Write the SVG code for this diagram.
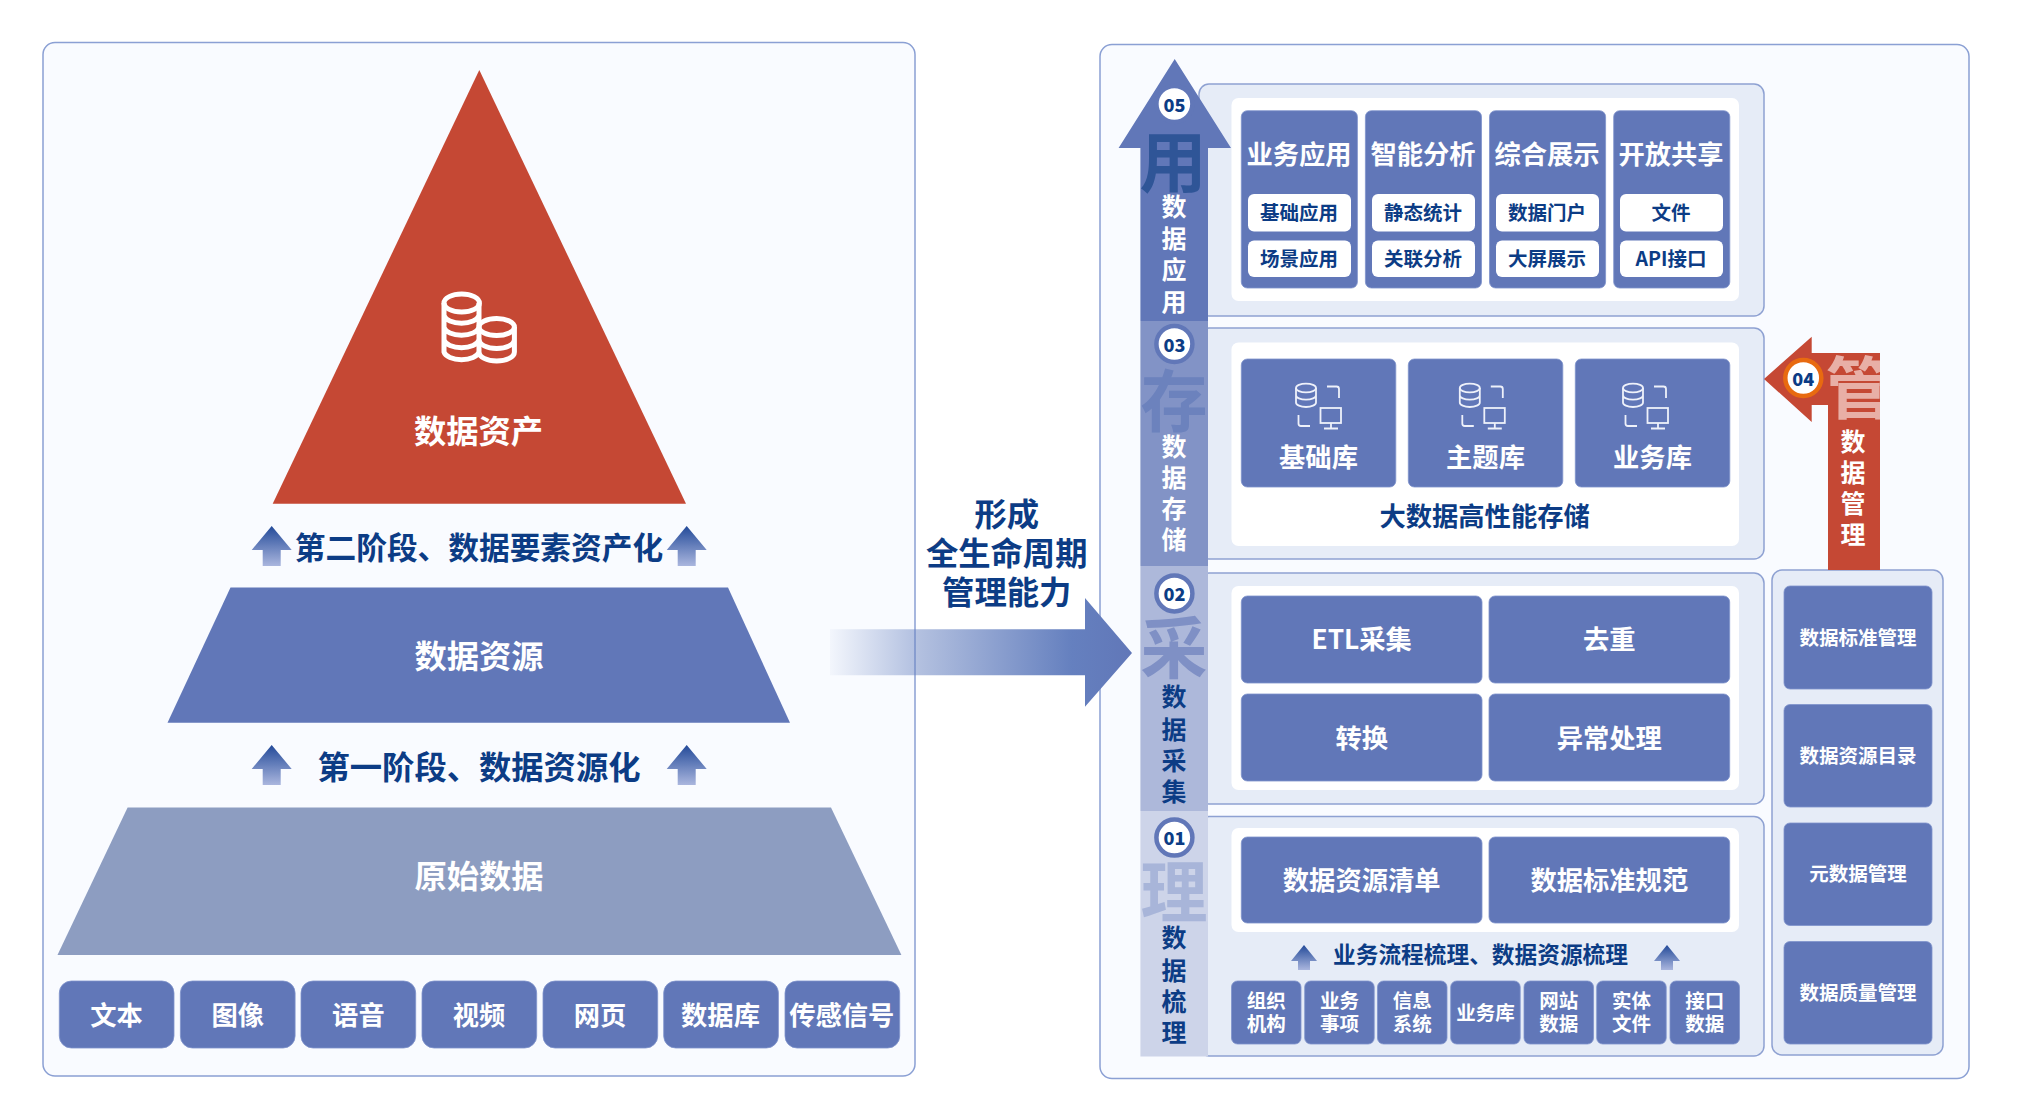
<svg xmlns="http://www.w3.org/2000/svg" width="2020" height="1107" viewBox="0 0 2020 1107">
<style>
text{font-family:"Noto Sans CJK SC","Noto Sans",sans-serif;font-weight:700;text-anchor:middle;dominant-baseline:central;transform:translateY(-1.5px)}
.panel{fill:#f9fbff;stroke:#8ba0d4;stroke-width:1.5}
.block{fill:#e6ecf7;stroke:#8ea1d2;stroke-width:1.5}
.inner{fill:#fff}
.card{fill:#6177b8;stroke:#7f93cb;stroke-width:.8}
.pill{fill:#fff}
.w{fill:#fff}
.n{fill:#0c3c85}
.f32{font-size:32.300px}.f31{font-size:30.700px}.f26{font-size:26.300px}.f25{font-size:25px}.f19{font-size:19.500px}.f22{font-size:22.700px}
.big{font-size:67px}
.num{fill:#fff;stroke-width:4.5}
.numt{font-size:18px;fill:#0c3c85;font-weight:900}
.ico{fill:none;stroke:#eef1fa;stroke-width:1.8}
.coin{fill:none;stroke:#fff;stroke-width:5}
</style>
<defs>
<linearGradient id="stageUp" x1="0" y1="0" x2="0" y2="1"><stop offset="0" stop-color="#234a99"/><stop offset="1" stop-color="#aab6de"/></linearGradient>
<linearGradient id="flow" gradientUnits="userSpaceOnUse" x1="830" y1="0" x2="1132" y2="0"><stop offset="0" stop-color="#6580bf" stop-opacity=".04"/><stop offset=".3" stop-color="#6580bf" stop-opacity=".5"/><stop offset=".8" stop-color="#6580bf"/><stop offset="1" stop-color="#6177b8"/></linearGradient>
<clipPath id="guanClip"><rect x="1820" y="355" width="60" height="70"/></clipPath>
<polygon id="upA" points="0,0 20,24 9,24 9,40 -9,40 -9,24 -20,24" fill="url(#stageUp)"/>
<g id="dbIcon" class="ico">
<ellipse cx="1306" cy="388" rx="10" ry="4.400"/>
<path d="M1296 388V402.500C1296 405 1300.500 407 1306 407S1316 405 1316 402.500V388M1296 395.200C1296 397.700 1300.500 399.600 1306 399.600S1316 397.700 1316 395.200"/>
<path d="M1327 386.500H1336.500Q1339 386.500 1339 389V398M1298.500 415V423.500Q1298.500 426 1301 426H1310"/>
<rect x="1320.500" y="408" width="20.500" height="15"/>
<path d="M1331 423V428M1324 428.500H1338"/>
</g>
</defs>

<g id="asset-panel">
<rect class="panel" x="43" y="42.500" width="872" height="1033.500" rx="12"/>
</g>
<g id="lifecycle-panel">
<rect class="panel" x="1100" y="44.500" width="869" height="1034" rx="12"/>
</g>

<g id="pyramid-assets">
<polygon points="479.300,70 686,503.700 272.700,503.700" fill="#c54834"/>
<g class="coin">
<ellipse cx="461.700" cy="303" rx="17.700" ry="9"/>
<path d="M444 303V352A17.700 9 0 0 0 479 352M479 303V352M444 315.500A17.700 9 0 0 0 479 315.500M444 327.500A17.700 9 0 0 0 479 327.500M444 340A17.700 9 0 0 0 479 340"/>
<ellipse cx="496.700" cy="327" rx="17.700" ry="8.500"/>
<path d="M479 352A17.700 9 0 0 0 514.400 352V327M479 339.500A17.700 9 0 0 0 514.400 339.500"/>
</g>
<text class="w f32" x="478.500" y="430">数据资产</text>
</g>
<g id="pyramid-resources">
<polygon points="230.500,587.500 728,587.500 790,722.700 167.500,722.700" fill="#6177b8"/>
<text class="w f32" x="479" y="655">数据资源</text>
</g>
<g id="pyramid-raw">
<polygon points="127.600,807.500 831,807.500 901.400,955 57.500,955" fill="#8d9dc1"/>
<text class="w f32" x="479" y="875">原始数据</text>
</g>

<g id="stage-two"><text class="n f31" x="479" y="547">第二阶段、数据要素资产化</text></g>
<g id="stage-one"><text class="n f32" x="479" y="766">第一阶段、数据资源化</text></g>

<g id="source-text"><rect class="card" x="59.300" y="981" width="114.700" height="67" rx="12"/><text class="w f26" x="116.600" y="1015">文本</text></g>
<g id="source-image"><rect class="card" x="180.400" y="981" width="114.700" height="67" rx="12"/><text class="w f26" x="237.800" y="1015">图像</text></g>
<g id="source-speech"><rect class="card" x="301" y="981" width="114.700" height="67" rx="12"/><text class="w f26" x="358.400" y="1015">语音</text></g>
<g id="source-video"><rect class="card" x="422" y="981" width="114.700" height="67" rx="12"/><text class="w f26" x="479" y="1015">视频</text></g>
<g id="source-web"><rect class="card" x="543" y="981" width="114.700" height="67" rx="12"/><text class="w f26" x="600" y="1015">网页</text></g>
<g id="source-db"><rect class="card" x="663.700" y="981" width="114.700" height="67" rx="12"/><text class="w f26" x="720.500" y="1015">数据库</text></g>
<g id="source-sensor"><rect class="card" x="785" y="981" width="114.700" height="67" rx="12"/><text class="w f26" x="841.800" y="1015">传感信号</text></g>

<g id="flow-label">
<text class="n f32" x="1006.700" y="513">形成</text>
<text class="n f32" x="1006.700" y="552.700">全生命周期</text>
<text class="n f32" x="1006.700" y="591.700">管理能力</text>
</g>

<g id="block-apply">
<rect class="block" x="1199" y="84" width="565" height="232" rx="10"/>
<rect class="inner" x="1231.500" y="98" width="507.500" height="203" rx="7"/>
<g><rect class="card" x="1241.300" y="110.700" width="116.100" height="177.300" rx="6"/><text class="w f26" x="1299" y="154">业务应用</text>
<rect class="pill" x="1248" y="194" width="103" height="37.400" rx="6"/><text class="n f19" x="1299" y="212.500">基础应用</text>
<rect class="pill" x="1248" y="240.400" width="103" height="36.600" rx="6"/><text class="n f19" x="1299" y="258.500">场景应用</text></g>
<g><rect class="card" x="1365.400" y="110.700" width="116.100" height="177.300" rx="6"/><text class="w f26" x="1423" y="154">智能分析</text>
<rect class="pill" x="1372" y="194" width="103" height="37.400" rx="6"/><text class="n f19" x="1423" y="212.500">静态统计</text>
<rect class="pill" x="1372" y="240.400" width="103" height="36.600" rx="6"/><text class="n f19" x="1423" y="258.500">关联分析</text></g>
<g><rect class="card" x="1489.500" y="110.700" width="116.100" height="177.300" rx="6"/><text class="w f26" x="1547" y="154">综合展示</text>
<rect class="pill" x="1496" y="194" width="103" height="37.400" rx="6"/><text class="n f19" x="1547" y="212.500">数据门户</text>
<rect class="pill" x="1496" y="240.400" width="103" height="36.600" rx="6"/><text class="n f19" x="1547" y="258.500">大屏展示</text></g>
<g><rect class="card" x="1613.700" y="110.700" width="116.100" height="177.300" rx="6"/><text class="w f26" x="1671" y="154">开放共享</text>
<rect class="pill" x="1620" y="194" width="103" height="37.400" rx="6"/><text class="n f19" x="1671" y="212.500">文件</text>
<rect class="pill" x="1620" y="240.400" width="103" height="36.600" rx="6"/><text class="n f19" x="1671" y="258.500">API接口</text></g>
</g>

<g id="block-store">
<rect class="block" x="1199" y="328" width="565" height="231" rx="10"/>
<rect class="inner" x="1231.500" y="342.500" width="507.500" height="203.500" rx="7"/>
<g><rect class="card" x="1241.300" y="359" width="154.500" height="128" rx="6"/><use href="#dbIcon"/><text class="w f26" x="1318.500" y="457">基础库</text></g>
<g><rect class="card" x="1408.300" y="359" width="154.500" height="128" rx="6"/><use href="#dbIcon" x="163.800"/><text class="w f26" x="1485.500" y="457">主题库</text></g>
<g><rect class="card" x="1575.300" y="359" width="154.500" height="128" rx="6"/><use href="#dbIcon" x="327"/><text class="w f26" x="1652.500" y="457">业务库</text></g>
<text class="n f26" x="1484.600" y="516">大数据高性能存储</text>
</g>

<g id="block-collect">
<rect class="block" x="1199" y="573" width="565" height="231" rx="10"/>
<rect class="inner" x="1231.500" y="586" width="507.500" height="204" rx="7"/>
<g><rect class="card" x="1241.300" y="596" width="240.700" height="87" rx="6"/><text class="w f26" x="1361.700" y="639">ETL采集</text></g>
<g><rect class="card" x="1489" y="596" width="240.700" height="87" rx="6"/><text class="w f26" x="1609.300" y="639">去重</text></g>
<g><rect class="card" x="1241.300" y="694" width="240.700" height="87" rx="6"/><text class="w f26" x="1361.700" y="738">转换</text></g>
<g><rect class="card" x="1489" y="694" width="240.700" height="87" rx="6"/><text class="w f26" x="1609.300" y="738">异常处理</text></g>
</g>

<g id="block-govern">
<rect class="block" x="1199" y="816.500" width="565" height="239.500" rx="10"/>
<rect class="inner" x="1231.500" y="828" width="507.500" height="104" rx="7"/>
<g><rect class="card" x="1241.300" y="837" width="240.700" height="86" rx="6"/><text class="w f26" x="1361.700" y="880">数据资源清单</text></g>
<g><rect class="card" x="1489" y="837" width="240.700" height="86" rx="6"/><text class="w f26" x="1609.300" y="880">数据标准规范</text></g>
<text class="n f22" x="1480.500" y="955">业务流程梳理、数据资源梳理</text>
<g><rect class="card" x="1231.500" y="981" width="69.500" height="63" rx="6"/><text class="w f19" x="1266.300" y="1001">组织</text><text class="w f19" x="1266.300" y="1024">机构</text></g>
<g><rect class="card" x="1304.700" y="981" width="69.500" height="63" rx="6"/><text class="w f19" x="1339.400" y="1001">业务</text><text class="w f19" x="1339.400" y="1024">事项</text></g>
<g><rect class="card" x="1377.500" y="981" width="69.500" height="63" rx="6"/><text class="w f19" x="1412.300" y="1001">信息</text><text class="w f19" x="1412.300" y="1024">系统</text></g>
<g><rect class="card" x="1450.700" y="981" width="69.500" height="63" rx="6"/><text class="w f19" x="1485.500" y="1013">业务库</text></g>
<g><rect class="card" x="1524" y="981" width="69.500" height="63" rx="6"/><text class="w f19" x="1558.700" y="1001">网站</text><text class="w f19" x="1558.700" y="1024">数据</text></g>
<g><rect class="card" x="1596.700" y="981" width="69.500" height="63" rx="6"/><text class="w f19" x="1631.500" y="1001">实体</text><text class="w f19" x="1631.500" y="1024">文件</text></g>
<g><rect class="card" x="1670" y="981" width="69.500" height="63" rx="6"/><text class="w f19" x="1704.700" y="1001">接口</text><text class="w f19" x="1704.700" y="1024">数据</text></g>
</g>

<g id="block-manage">
<rect class="block" x="1772" y="570" width="171" height="485" rx="10"/>
<g><rect class="card" x="1784" y="586" width="148" height="103" rx="6"/><text class="w f19" x="1858" y="637.500">数据标准管理</text></g>
<g><rect class="card" x="1784" y="704.500" width="148" height="102.500" rx="6"/><text class="w f19" x="1858" y="755.500">数据资源目录</text></g>
<g><rect class="card" x="1784" y="823" width="148" height="102.500" rx="6"/><text class="w f19" x="1858" y="874">元数据管理</text></g>
<g><rect class="card" x="1784" y="941.500" width="148" height="102.500" rx="6"/><text class="w f19" x="1858" y="992.500">数据质量管理</text></g>
</g>

<g id="stage-apply">
<polygon points="1174.700,59 1231,148 1208,148 1208,321 1140.400,321 1140.400,148 1118.600,148" fill="#6177b8"/>
<circle class="num" cx="1174.400" cy="104" r="18" stroke="#6177b8"/><text class="numt" x="1174.400" y="105">05</text>
<text class="big" fill="#2f5597" x="1173" y="159">用</text>
<text class="w f25" x="1174" y="206">数</text><text class="w f25" x="1174" y="238">据</text><text class="w f25" x="1174" y="269">应</text><text class="w f25" x="1174" y="301">用</text>
</g>
<g id="stage-store">
<rect x="1140.400" y="321" width="67.600" height="245" fill="#8293c6"/>
<circle class="num" cx="1174.400" cy="344" r="18" stroke="#6177b8"/><text class="numt" x="1174.400" y="345">03</text>
<text class="big" fill="#6c82bd" x="1174" y="398">存</text>
<text class="w f25" x="1174" y="446">数</text><text class="w f25" x="1174" y="477.500">据</text><text class="w f25" x="1174" y="508.600">存</text><text class="w f25" x="1174" y="539.600">储</text>
</g>
<g id="stage-collect">
<rect x="1140.400" y="566" width="67.600" height="245" fill="#adb8da"/>
<circle class="num" cx="1174.400" cy="593.400" r="18" stroke="#6177b8"/><text class="numt" x="1174.400" y="594.400">02</text>
<text class="big" fill="#7f90c5" x="1174" y="645">采</text>
<text class="n f25" x="1174" y="696">数</text><text class="n f25" x="1174" y="729">据</text><text class="n f25" x="1174" y="760">采</text><text class="n f25" x="1174" y="791">集</text>
</g>
<g id="stage-govern">
<rect x="1140.400" y="811" width="67.600" height="245.500" fill="#cdd4e9"/>
<circle class="num" cx="1174.400" cy="837.600" r="18" stroke="#6177b8"/><text class="numt" x="1174.400" y="838.600">01</text>
<text class="big" fill="#a8b5d9" x="1174" y="889">理</text>
<text class="n f25" x="1174" y="937.600">数</text><text class="n f25" x="1174" y="970">据</text><text class="n f25" x="1174" y="1001">梳</text><text class="n f25" x="1174" y="1032">理</text>
</g>
<g id="stage-manage">
<polygon points="1764,379 1811.700,336.700 1811.700,353 1880,353 1880,570 1828,570 1828,405 1811.700,405 1811.700,422" fill="#c54834"/>
<text class="big" fill="#e8afa6" x="1859" y="385" clip-path="url(#guanClip)">管</text>
<circle class="num" cx="1803.300" cy="378" r="18" stroke="#e86a10"/><text class="numt" x="1803.300" y="379">04</text>
<text class="w f25" x="1853" y="441.700">数</text><text class="w f25" x="1853" y="472.700">据</text><text class="w f25" x="1853" y="503">管</text><text class="w f25" x="1853" y="534">理</text>
</g>

<g id="connectors">
<polygon points="830,629.300 1085,629.300 1085,598 1132,653 1085,706.700 1085,675.300 830,675.300" fill="url(#flow)"/>
<use href="#upA" x="271.700" y="526"/>
<use href="#upA" x="686.700" y="526"/>
<use href="#upA" x="271.700" y="745"/>
<use href="#upA" x="686.700" y="745"/>
<polygon points="1304,945 1317,961 1310,961 1310,970 1298,970 1298,961 1291,961" fill="url(#stageUp)"/>
<polygon points="1667,945 1680,961 1673,961 1673,970 1661,970 1661,961 1654,961" fill="url(#stageUp)"/>
</g>
</svg>
